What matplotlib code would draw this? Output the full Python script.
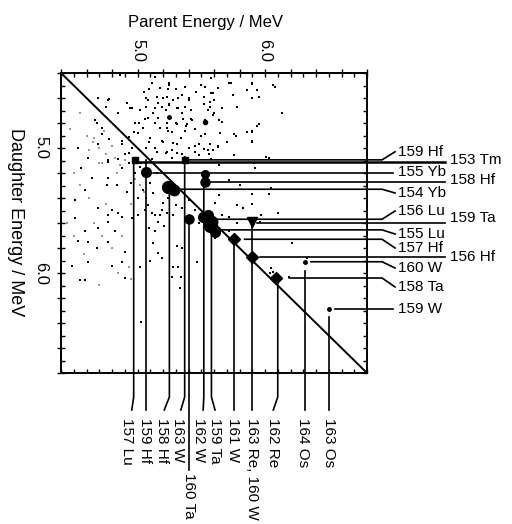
import matplotlib
matplotlib.use('Agg')
import matplotlib.pyplot as plt
from matplotlib.ticker import MultipleLocator

plt.rcParams['font.family'] = ['Liberation Sans', 'DejaVu Sans']

# energy range of both axes (MeV)
e_min, e_max = 4.4, 6.8

# daughter lines (horizontal): name, daughter energy, parent energy where the line starts
h_names = ['159 Hf', '153 Tm', '155 Yb', '158 Hf', '154 Yb', '156 Lu', '159 Ta',
           '155 Lu', '157 Hf', '156 Hf', '160 W', '158 Ta', '159 W']
h_energy = [5.095, 5.11, 5.20, 5.27, 5.33, 5.57, 5.60, 5.655, 5.73, 5.87, 5.91, 6.04, 6.29]
h_start = [5.36, 4.98, 5.12, 5.58, 5.30, 5.62, 5.94, 5.64, 5.84, 5.96, 6.36, 6.19, 6.55]

# parent lines (vertical): name, parent energy, daughter energy where the line starts
v_names = ['157 Lu', '159 Hf', '158 Hf', '163 W', '160 Ta', '162 W', '159 Ta',
           '161 W', '163 Re, 160 W', '162 Re', '164 Os', '163 Os']
v_energy = [4.97, 5.07, 5.25, 5.37, 5.40, 5.52, 5.58, 5.76, 5.90, 6.10, 6.31, 6.50]
v_start = [5.12, 5.10, 5.36, 5.07, 5.54, 5.21, 5.70, 5.78, 5.60, 6.08, 5.98, 6.35]

# strong correlation groups (parent, daughter)
blob_parent = [4.98, 5.07, 5.24, 5.29, 5.37, 5.53, 5.53, 5.40, 5.51, 5.55, 5.58,
               5.61, 5.57, 5.76, 5.90, 5.90, 6.09, 6.31, 6.50, 5.53, 5.25]
blob_daughter = [5.10, 5.19, 5.31, 5.34, 5.10, 5.21, 5.27, 5.57, 5.55, 5.54, 5.59,
                 5.67, 5.62, 5.73, 5.59, 5.87, 6.04, 5.91, 6.29, 4.79, 4.75]

# single events
bg_parent = [5.25, 5.11, 5.35, 5.58, 5.50, 5.08, 5.25, 4.96, 5.14, 4.77, 5.32, 5.53, 5.25, 5.43,
             4.67, 4.85, 4.98, 5.14, 5.24, 5.37, 5.50, 5.55, 5.00, 5.19, 4.88, 4.72, 4.53, 4.96,
             5.14, 5.27, 5.55, 5.45, 4.61, 4.77, 4.56, 4.88, 4.77, 4.59, 4.76, 4.84, 4.51, 4.69,
             4.77, 4.96, 4.64, 5.08, 5.14, 5.19,
             5.72, 5.90, 6.06, 5.86, 5.94, 5.90, 5.75, 5.59, 5.66, 5.78, 6.13, 5.59, 5.64, 5.94,
             5.90, 5.86, 5.77, 5.90, 5.63, 5.59, 5.76, 6.01, 5.92, 5.64, 5.72, 5.80, 6.05, 6.03,
             5.90, 5.64, 5.61, 5.78, 5.90, 5.83, 5.97, 6.10, 5.66, 5.72,
             4.51, 4.77, 4.59, 4.69, 4.82, 4.53, 4.61, 4.68, 4.77, 4.90, 4.61, 4.49, 4.88, 4.80,
             4.55, 4.59, 4.90, 5.02, 5.12, 5.16, 5.10, 5.19, 5.28, 5.32, 5.27, 5.34, 5.33, 5.47,
             5.03, 5.09, 5.14, 5.21, 5.16, 5.31, 5.35,
             5.11, 5.18, 5.23, 5.28, 5.00, 5.06,
             6.05, 6.06, 6.04, 6.33, 6.21, 6.19, 5.96, 5.78, 5.61, 5.72,
             4.90, 4.93, 4.98, 5.02, 5.05, 5.10, 4.95, 5.04, 5.12, 5.15, 5.00, 5.20, 5.24, 5.30,
             5.35, 5.40, 5.07, 4.92, 5.45, 5.48, 4.85, 4.80, 4.88,
             5.05, 5.18, 5.30, 5.40, 5.46, 5.20, 5.28, 5.12, 5.22, 5.35, 5.42, 5.30, 5.18, 5.08,
             5.04, 5.45, 5.34, 5.28, 5.10, 5.22, 5.40, 5.48, 5.60, 5.65, 5.70, 5.35, 5.02, 4.92,
             5.16, 5.38]
bg_daughter = [4.50, 4.48, 4.58, 4.56, 4.50, 4.62, 4.66, 4.68, 4.68, 4.62, 4.68, 4.78, 4.76, 4.78,
               4.78, 4.72, 4.80, 4.80, 4.86, 4.86, 4.90, 4.70, 4.88, 4.94, 4.94, 4.84, 5.00, 5.00,
               5.00, 5.02, 5.02, 4.98, 5.08, 5.10, 5.16, 5.16, 5.24, 5.34, 5.30, 5.30, 5.42, 5.48,
               5.54, 5.56, 5.24, 5.46, 5.54, 5.50,
               4.48, 4.48, 4.50, 4.54, 4.54, 4.60, 4.58, 4.56, 4.68, 4.67, 4.72, 4.74, 4.78, 4.82,
               4.86, 4.87, 4.90, 4.94, 4.98, 5.02, 5.06, 5.07, 5.16, 5.14, 5.26, 5.30, 5.32, 5.37,
               5.37, 5.38, 5.44, 5.46, 5.45, 5.48, 5.54, 5.52, 5.54, 5.55,
               5.56, 5.59, 5.66, 5.64, 5.66, 5.74, 5.75, 5.80, 5.75, 5.83, 5.91, 5.94, 5.91, 5.94,
               6.06, 6.06, 6.04, 5.95, 5.76, 5.84, 5.90, 5.88, 5.95, 5.95, 6.03, 6.03, 6.12, 5.91,
               6.39, 5.64, 5.66, 5.62, 5.59, 5.78, 5.80,
               5.52, 5.54, 5.52, 5.54, 5.54, 5.50,
               5.96, 5.99, 6.00, 5.88, 5.76, 6.03, 5.59, 5.60, 5.72, 5.66,
               5.05, 5.12, 5.20, 5.15, 5.22, 5.28, 5.28, 5.34, 5.36, 5.20, 5.40, 5.44, 5.40, 5.46,
               5.48, 5.42, 5.40, 5.35, 5.50, 5.60, 5.52, 5.50, 5.55,
               4.55, 4.52, 4.53, 4.62, 4.55, 4.60, 4.62, 4.72, 4.70, 4.72, 4.70, 4.80, 4.84, 4.76,
               4.84, 4.85, 4.92, 4.96, 4.92, 5.04, 5.00, 5.06, 4.62, 4.88, 4.95, 5.05, 4.70, 4.64,
               4.64, 4.82]

# more single events in the upper (parent > daughter) region
upper_parent = [4.86, 5.14, 5.25, 5.37, 5.53, 5.58, 5.73, 5.90, 6.08, 5.09, 5.24, 5.58, 5.63,
                5.07, 5.15, 5.23, 5.32, 5.40, 5.52, 5.57, 5.90, 5.95, 4.78, 4.94, 5.07, 5.19,
                5.25, 5.31, 5.37, 5.52, 5.57, 5.78, 5.60, 5.16, 5.06, 5.36, 5.42, 5.66,
                5.01, 5.23, 5.31, 5.39, 5.27, 5.23, 5.53, 5.76, 5.90, 5.95, 6.13, 4.97, 4.93,
                5.09, 5.20, 5.31, 5.48, 5.57, 5.63, 5.90, 5.07, 5.15, 5.23, 5.31, 5.45, 5.52,
                5.56, 4.88, 4.78, 4.69, 4.72, 4.68, 4.75, 4.69, 5.03, 5.11, 5.27, 5.58, 5.91,
                6.03, 4.85, 4.77, 4.93]
upper_daughter = [4.42, 4.43, 4.48, 4.51, 4.51, 4.44, 4.48, 4.49, 4.51, 4.53, 4.53, 4.56, 4.52,
                  4.60, 4.59, 4.59, 4.60, 4.60, 4.59, 4.63, 4.60, 4.59, 4.61, 4.68, 4.67, 4.67,
                  4.65, 4.68, 4.67, 4.65, 4.67, 4.67, 4.72, 4.76, 4.77, 4.77, 4.77, 4.79,
                  4.80, 4.80, 4.81, 4.81, 4.87, 4.84, 4.89, 4.89, 4.87, 4.81, 4.72, 4.87, 4.91,
                  4.95, 4.95, 4.97, 4.97, 4.97, 4.99, 4.95, 5.00, 5.03, 5.03, 5.04, 5.03, 5.01,
                  5.05, 4.97, 4.93, 4.97, 4.89, 4.80, 4.67, 4.60, 5.12, 5.09, 5.08, 5.09, 5.12,
                  5.08, 5.09, 5.11, 5.04]

# faint single events
faint_parent = [4.50, 4.55, 4.62, 4.70, 4.66, 4.72, 4.58, 4.80, 4.85, 4.95, 4.50, 4.70,
                4.75, 4.45, 4.88, 4.93, 4.62, 4.47, 4.55, 4.65, 4.70, 4.75, 4.82, 4.72,
                4.80, 4.90, 4.86, 4.66, 4.74, 4.60, 4.98, 5.02, 4.95, 5.05, 4.84]
faint_daughter = [5.20, 5.30, 5.40, 5.12, 5.60, 5.70, 5.85, 5.80, 6.00, 6.05, 5.70, 6.10,
                  5.45, 5.60, 5.70, 5.95, 5.02, 4.85, 4.72, 4.95, 5.00, 5.05, 5.08, 5.12,
                  4.98, 5.10, 5.14, 4.92, 4.86, 4.90, 5.25, 5.30, 5.45, 5.35, 5.20]

# ---- layout (label placement outside the box), in MeV units ----
h_col2 = ['153 Tm', '158 Hf', '159 Ta', '156 Hf']
h_label_y = [5.03, 5.10, 5.194, 5.256, 5.36, 5.504, 5.562, 5.688, 5.80, 5.87, 5.96, 6.112, 6.288]
v_label_x = [4.92, 5.06, 5.19, 5.32, 5.40, 5.48, 5.61, 5.75, 5.90, 6.065, 6.30, 6.50]
v_lead_x = [4.955, 5.07, 5.21, 5.34, 5.40, 5.515, 5.608, 5.76, 5.90, 6.065, 6.31, 6.50]
blob_marker = ['s', 'o', 'o', 'o', 's', 'o', 'o', 'o', 'o', 'o', 'o', 'o', 'o', 'D', 'v', 'D',
               'D', 'o', 'o', 'o', 'o']
blob_ms = [5, 7, 8.5, 7.5, 4, 5.5, 6.5, 6.5, 7, 7, 9, 7, 8.5, 6.5, 7.5, 6, 6.5, 2.5, 2.5, 3, 2.5]

fig = plt.figure(figsize=(5.12, 5.24), dpi=100)
ax = fig.add_axes([61 / 512, 1 - 373 / 524, 306 / 512, 300 / 524])
ax.set_xlim(e_min, e_max)
ax.set_ylim(e_max, e_min)

lw = 1.2
fs = 11

# diagonal
ax.plot([e_min, e_max], [e_min, e_max], color='black', lw=1.4)

ax.scatter(faint_parent, faint_daughter, s=2.5, marker='s', color='#999999', linewidths=0)
ax.scatter(bg_parent, bg_daughter, s=3, marker='s', color='black', linewidths=0)
ax.scatter(upper_parent, upper_daughter, s=3, marker='s', color='black', linewidths=0)
for x, y, m, ms in zip(blob_parent, blob_daughter, blob_marker, blob_ms):
    ax.plot(x, y, marker=m, ms=ms, color='black', ls='none')

# horizontal lines + right labels
x_end1, x_lead, x_lab1 = 6.918, 7.02, 7.043
x_end2, x_lab2 = 7.41, 7.45
for name, e, x0, ly in zip(h_names, h_energy, h_start, h_label_y):
    w = 1.8 if name == '153 Tm' else lw
    if name in h_col2:
        ax.plot([x0, x_end2], [e, e], color='black', lw=w, clip_on=False)
        ax.text(x_lab2, ly, name, fontsize=fs, va='center', ha='left')
    else:
        if abs(ly - e) < 0.02:
            ax.plot([x0, x_lead - 0.02], [e, e], color='black', lw=w, clip_on=False)
        else:
            ax.plot([x0, x_end1, x_lead], [e, e, ly], color='black', lw=w, clip_on=False)
        ax.text(x_lab1, ly, name, fontsize=fs, va='center', ha='left')

# vertical lines + bottom labels
y_bend, y_lead, y_lab = 6.992, 7.096, 7.16
for name, e, y0, lx, ex in zip(v_names, v_energy, v_start, v_label_x, v_lead_x):
    if name == '160 Ta':
        ax.plot([e, e], [y0, 7.576], color='black', lw=lw, clip_on=False)
        ax.text(lx, 7.60, name, fontsize=fs, rotation=-90, ha='center', va='top')
        continue
    ax.plot([e, e, ex], [y0, y_bend, y_lead], color='black', lw=lw, clip_on=False)
    ax.text(lx, y_lab, name, fontsize=fs, rotation=-90, ha='center', va='top')

# ticks
ax.xaxis.set_major_locator(MultipleLocator(0.1))
ax.yaxis.set_major_locator(MultipleLocator(0.1))
ax.tick_params(direction='in', length=3, width=1, top=True, right=True,
               labelbottom=False, labelleft=False)
for s in ax.spines.values():
    s.set_linewidth(1.4)

secx = ax.secondary_xaxis('top')
secx.set_xticks([5.0, 6.0], labels=['5.0', '6.0'])
secx.xaxis.set_minor_locator(MultipleLocator(0.2))
secx.tick_params(which='both', direction='out', length=3, width=1)
secx.tick_params(which='major', labelsize=12, labelrotation=-90, pad=5)
secx.spines['top'].set_linewidth(1.4)

secy = ax.secondary_yaxis('left')
secy.set_yticks([5.0, 6.0], labels=['5.0', '6.0'])
secy.yaxis.set_minor_locator(MultipleLocator(0.2))
secy.tick_params(which='both', direction='out', length=3, width=1)
secy.tick_params(which='major', labelsize=12, labelrotation=-90, pad=6)
secy.spines['left'].set_linewidth(1.4)
for t in secy.get_yticklabels():
    t.set_va('center')

fig.text(206 / 512, 1 - 22 / 524, 'Parent Energy / MeV', fontsize=12, ha='center', va='center')
fig.text(15 / 512, 1 - 222 / 524, 'Daughter Energy / MeV', fontsize=13, rotation=-90,
         ha='center', va='center')

fig.savefig('out.png', dpi=100)
